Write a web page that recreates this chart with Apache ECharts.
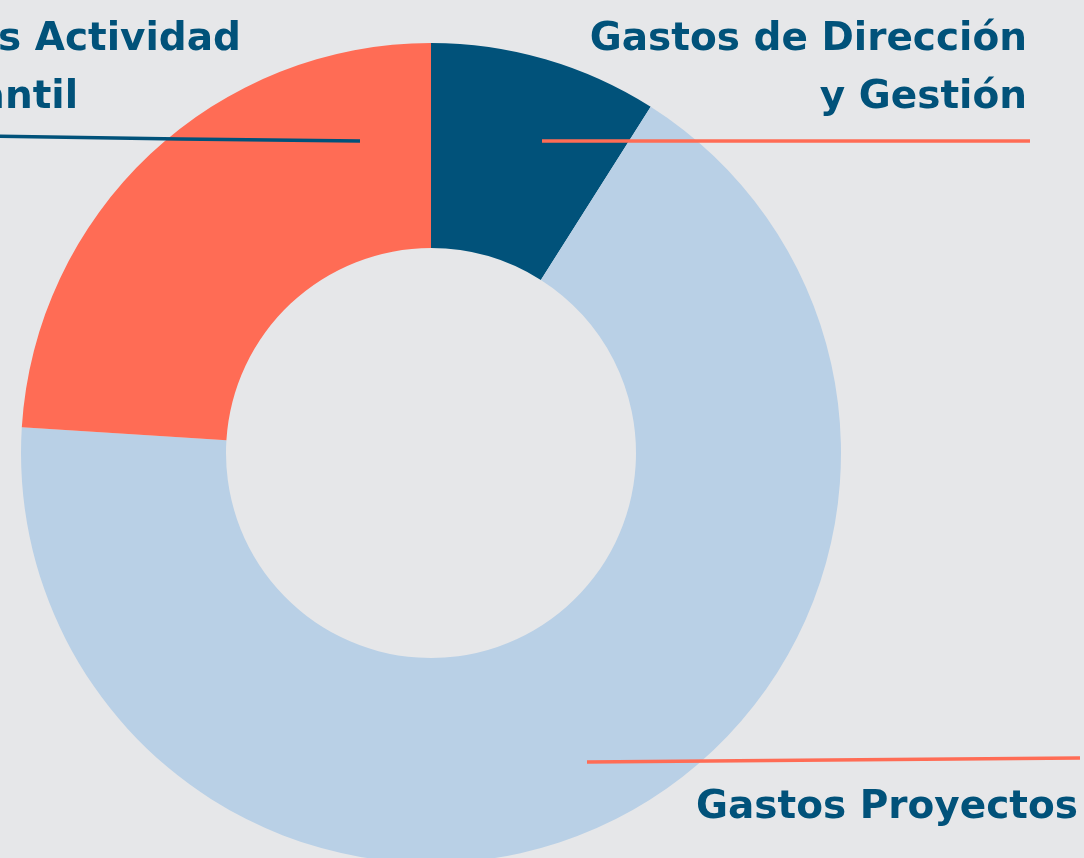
<!DOCTYPE html>
<html>
<head>
<meta charset="utf-8">
<script src="https://cdn.jsdelivr.net/npm/echarts@6/dist/echarts.min.js"></script>
<style>
  html, body { margin: 0; padding: 0; background: #e6e7e9; }
  #chart { width: 1084px; height: 858px; }
</style>
</head>
<body>
<div id="chart"></div>
<script>
// Expense breakdown (share of total, %)
const categories = ['Gastos de Dirección y Gestión', 'Gastos Proyectos', 'Gastos Actividad Mercantil'];
const labelTexts = ['Gastos de Dirección\ny Gestión', 'Gastos Proyectos', 'Gastos Actividad\nMercantil'];
const values = [9, 67, 24];
const sliceColors = ['#01527a', '#b9d0e6', '#ff6c55'];
const leaderColors = ['#ff6c55', '#ff6c55', '#01527a'];

// Where each label and its leader line sit on the canvas
const labelPlacement = [
  { x: 1027, y: 11, align: 'right', verticalAlign: 'top',
    line: [[542, 141], [800, 141], [1030, 141]] },
  { x: 1078, y: 808, align: 'right', verticalAlign: 'middle',
    line: [[587, 762], [830, 760], [1080, 758]] },
  { x: -129, y: 11, align: 'left', verticalAlign: 'top',
    line: [[360, 141], [180, 139], [-10, 136]] }
];

const center = [431, 453];
const radius = [205, 410];

const chart = echarts.init(document.getElementById('chart'), null, { renderer: 'canvas' });

chart.setOption({
  backgroundColor: '#e6e7e9',
  animation: false,
  series: [
    // The donut itself
    {
      type: 'pie',
      z: 2,
      center, radius,
      startAngle: 90,
      clockwise: true,
      silent: true,
      emphasis: { disabled: true },
      itemStyle: { borderWidth: 0 },
      label: { show: false },
      labelLine: { show: false },
      data: categories.map((name, i) => ({
        name,
        value: values[i],
        itemStyle: { color: sliceColors[i] }
      }))
    },
    // Same slices, invisible, carrying the labels and leader lines on top
    {
      type: 'pie',
      z: 5,
      center, radius,
      startAngle: 90,
      clockwise: true,
      avoidLabelOverlap: false,
      silent: true,
      emphasis: { disabled: true },
      itemStyle: { color: 'rgba(0,0,0,0)', borderWidth: 0 },
      label: {
        show: true,
        position: 'outside',
        formatter: (p) => labelTexts[p.dataIndex],
        color: '#01527a',
        fontFamily: 'DejaVu Sans',
        fontWeight: 'bold',
        fontSize: 39,
        lineHeight: 58
      },
      labelLine: {
        show: true,
        smooth: false,
        lineStyle: { width: 3.5 }
      },
      labelLayout: (params) => {
        const p = labelPlacement[params.dataIndex];
        return {
          x: p.x,
          y: p.y,
          align: p.align,
          verticalAlign: p.verticalAlign,
          labelLinePoints: p.line
        };
      },
      data: categories.map((name, i) => ({
        name,
        value: values[i],
        labelLine: { lineStyle: { color: leaderColors[i], width: 3.5 } }
      }))
    }
  ]
});
</script>
</body>
</html>
